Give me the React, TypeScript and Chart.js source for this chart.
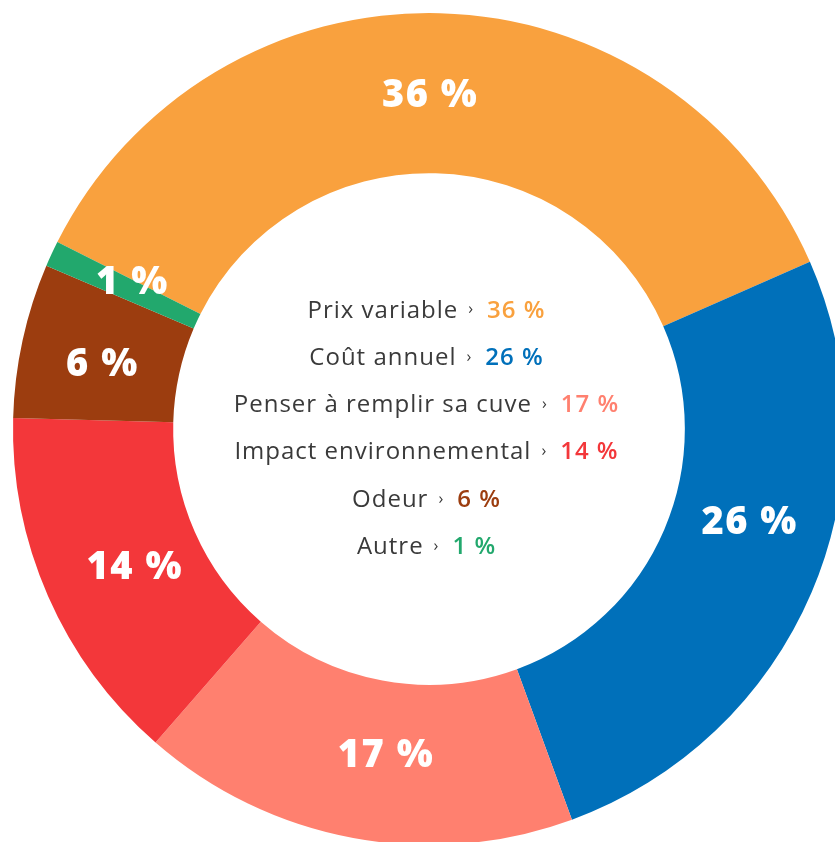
import React, { useEffect, useRef } from "react";
import { Chart, registerables } from "chart.js";

Chart.register(...registerables);

const categories = [
  "Prix variable",
  "Coût annuel",
  "Penser à remplir sa cuve",
  "Impact environnemental",
  "Odeur",
  "Autre",
];
const values = [36, 26, 17, 14, 6, 1];
const valueLabels = ["36 %", "26 %", "17 %", "14 %", "6 %", "1 %"];
const colors = ["#F9A13E", "#0070BA", "#FF806F", "#F3373A", "#9C3D0F", "#22A86D"];

// label placement tweaks (style only)
const labelAngleShift = [-1.3, -6.9, -3, -1.4, -1.1, 1.4];
const labelRadiusShift = [-2, -2, -7, -11, -3, -5];

const ringLabelPlugin = {
  id: "ringLabels",
  afterDraw(chart: any) {
    const ctx = chart.ctx;
    const meta = chart.getDatasetMeta(0);
    ctx.save();
    ctx.fillStyle = "#ffffff";
    ctx.font = "800 38px 'Open Sans', sans-serif";
    (ctx as any).letterSpacing = "1.5px";
    ctx.textAlign = "center";
    ctx.textBaseline = "middle";
    meta.data.forEach((arc: any, i: number) => {
      const { x, y, startAngle, endAngle, innerRadius, outerRadius } = arc.getProps(
        ["x", "y", "startAngle", "endAngle", "innerRadius", "outerRadius"],
        true
      );
      const mid = (startAngle + endAngle) / 2 + (labelAngleShift[i] * Math.PI) / 180;
      const r = (innerRadius + outerRadius) / 2 + labelRadiusShift[i];
      ctx.fillText(valueLabels[i], x + Math.cos(mid) * r, y + Math.sin(mid) * r + 1);
    });
    ctx.restore();

    // center legend
    const first = meta.data[0];
    const cx = first.x - 2.5;
    const cy = first.y;
    const lineGap = 47.3;
    const n = categories.length;
    ctx.save();
    ctx.textBaseline = "middle";
    ctx.textAlign = "left";
    const labelFont = "500 24px 'Open Sans', sans-serif";
    const valueFont = "600 24px 'Open Sans', sans-serif";
    const chevFont = "500 16px 'Open Sans', sans-serif";
    categories.forEach((cat, i) => {
      const yy = cy + (i - (n - 1) / 2) * lineGap;
      (ctx as any).letterSpacing = "1px";
      ctx.font = labelFont;
      const w1 = ctx.measureText(cat).width;
      ctx.font = chevFont;
      const w2 = ctx.measureText("›").width;
      ctx.font = valueFont;
      const w3 = ctx.measureText(valueLabels[i]).width;
      const g1 = 10;
      const g2 = 13;
      const total = w1 + g1 + w2 + g2 + w3;
      let xx = cx - total / 2;
      ctx.font = labelFont;
      ctx.fillStyle = "#3A3A3A";
      ctx.fillText(cat, xx, yy);
      xx += w1 + g1;
      ctx.font = chevFont;
      ctx.fillStyle = "#3A3A3A";
      ctx.fillText("›", xx, yy - 1);
      xx += w2 + g2;
      ctx.font = valueFont;
      ctx.fillStyle = colors[i];
      ctx.fillText(valueLabels[i], xx, yy);
    });
    ctx.restore();
  },
};

export default function App() {
  const ref = useRef<HTMLCanvasElement>(null);
  useEffect(() => {
    if (!ref.current) return;
    const chart = new Chart(ref.current, {
      type: "doughnut",
      data: {
        labels: categories,
        datasets: [
          {
            data: values,
            backgroundColor: colors,
            borderWidth: 0,
          },
        ],
      },
      options: {
        animation: false,
        responsive: false,
        rotation: -63.3,
        radius: 416,
        cutout: "61.5%",
        layout: { padding: { left: 23, top: 16, right: 0, bottom: 0 } },
        plugins: {
          legend: { display: false },
          tooltip: { enabled: false },
        },
      },
      plugins: [ringLabelPlugin],
    });
    return () => chart.destroy();
  }, []);
  return (
    <canvas
      ref={ref}
      width={835}
      height={842}
      style={{ position: "fixed", left: 0, top: 0, width: 835, height: 842, background: "#fff" }}
    />
  );
}
